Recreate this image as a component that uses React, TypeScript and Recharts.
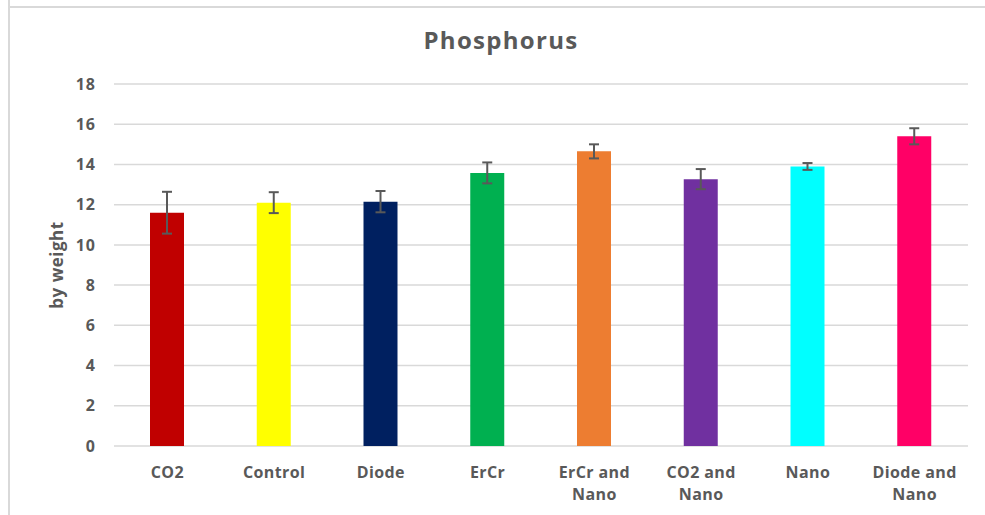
import { Bar, BarChart, CartesianGrid, Cell, ErrorBar, XAxis, YAxis } from 'recharts';

const categories = [
  'CO2',
  'Control',
  'Diode',
  'ErCr',
  'ErCr and Nano',
  'CO2 and Nano',
  'Nano',
  'Diode and Nano',
];
const values = [11.6, 12.1, 12.15, 13.58, 14.65, 13.27, 13.9, 15.4];
const errors = [1.04, 0.52, 0.53, 0.52, 0.35, 0.5, 0.17, 0.4];
const barColors = [
  '#C00000',
  '#FFFF00',
  '#002060',
  '#00B050',
  '#ED7D31',
  '#7030A0',
  '#00FFFF',
  '#FF0066',
];
const yTicks = [0, 2, 4, 6, 8, 10, 12, 14, 16, 18];

const data = categories.map((name, i) => ({ name, value: values[i], err: errors[i] }));

const TEXT = '#595959';
const GRID = '#d9d9d9';
const FONT = '"Open Sans", "DejaVu Sans", sans-serif';

// Excel wraps the two-word treatments after "and"
function CategoryTick({ x, y, payload }: any) {
  const label: string = payload.value;
  const idx = label.indexOf(' and ');
  const lines = idx >= 0 ? [label.slice(0, idx + 4), label.slice(idx + 5)] : [label];
  return (
    <text
      x={x}
      y={y}
      textAnchor="middle"
      fill={TEXT}
      fontSize={16}
      fontWeight={700}
      fontFamily={FONT}
      letterSpacing={0.4}
    >
      {lines.map((line, i) => (
        <tspan key={i} x={x} dy={i === 0 ? 23.5 : 22.5}>
          {line}
        </tspan>
      ))}
    </text>
  );
}

export default function App() {
  return (
    <div
      style={{
        position: 'absolute',
        left: 0,
        top: 0,
        width: 985,
        height: 515,
        background: '#fff',
        overflow: 'hidden',
      }}
    >
      <div style={{ position: 'absolute', left: 8, top: 0, width: 2, height: 515, background: GRID }} />
      <div style={{ position: 'absolute', left: 8, top: 6, width: 977, height: 2, background: GRID }} />
      <div
        style={{
          position: 'absolute',
          left: 0,
          top: 24,
          width: 1002,
          textAlign: 'center',
          color: TEXT,
          fontFamily: FONT,
          fontWeight: 700,
          fontSize: 24,
          letterSpacing: 1.3,
          lineHeight: '32px',
        }}
      >
        Phosphorus
      </div>
      <BarChart
        width={985}
        height={515}
        data={data}
        margin={{ top: 84, right: 17, bottom: 39, left: 0 }}
        style={{ position: 'absolute', left: 0, top: 0 }}
      >
        <CartesianGrid stroke={GRID} strokeWidth={1.5} vertical={false} />
        <XAxis
          dataKey="name"
          tickLine={false}
          axisLine={false}
          interval={0}
          tick={<CategoryTick />}
        />
        <YAxis
          width={114}
          domain={[0, 18]}
          ticks={yTicks}
          interval={0}
          tickLine={false}
          axisLine={false}
          tickMargin={12}
          tick={{ fill: TEXT, fontSize: 16, fontWeight: 700, fontFamily: FONT, letterSpacing: 1 }}
          label={{
            value: 'by weight',
            angle: -90,
            position: 'center',
            fill: TEXT,
            fontSize: 17,
            fontWeight: 700,
            fontFamily: FONT,
            letterSpacing: 0.5,
          }}
        />
        <Bar dataKey="value" barSize={34} isAnimationActive={false}>
          {data.map((d, i) => (
            <Cell key={d.name} fill={barColors[i]} />
          ))}
          <ErrorBar dataKey="err" width={5} stroke="#595959" strokeWidth={2} isAnimationActive={false} />
        </Bar>
      </BarChart>
    </div>
  );
}
